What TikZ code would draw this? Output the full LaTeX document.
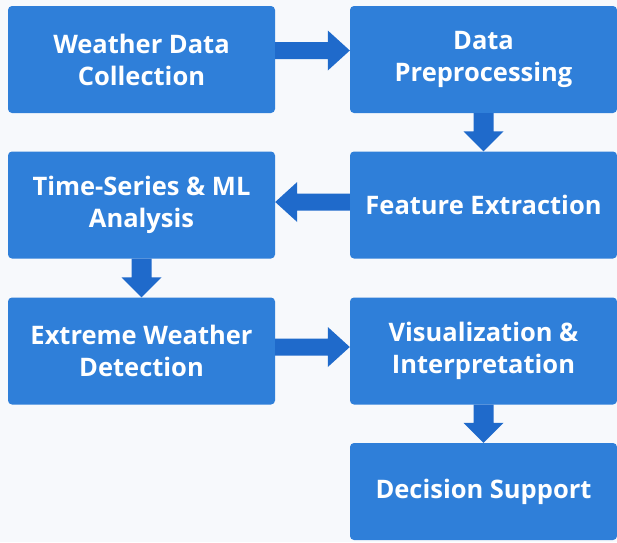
\documentclass[tikz,border=0pt]{standalone}
\usepackage{fontspec}
\setmainfont{Open Sans}
\usetikzlibrary{calc}
\definecolor{pagebg}{HTML}{F7F9FC}
\definecolor{boxfill}{HTML}{2F7FD9}
\definecolor{arrowfill}{HTML}{1F6ACB}
\tikzset{
  stage/.style={fill=boxfill, rounded corners=4pt, minimum width=267pt,
    minimum height=107pt, inner sep=0pt, align=center, text=white,
    font=\fontsize{25.5}{32}\selectfont\bfseries},
}
% horizontal block arrow: #1 start point, #2 end point (tip), #3 direction (+1 right, -1 left)
\newcommand\harrow[3]{%
  \fill[arrowfill] let \p1=(#1), \p2=(#2) in
    (\x1,\y1+8.5pt) -- (\x2-#3*22pt,\y1+8.5pt) -- (\x2-#3*22pt,\y1+20pt)
    -- (\x2,\y1) -- (\x2-#3*22pt,\y1-20pt) -- (\x2-#3*22pt,\y1-8.5pt)
    -- (\x1,\y1-8.5pt) -- cycle;}
% downward block arrow: #1 start point, #2 end point (tip)
\newcommand\varrow[2]{%
  \fill[arrowfill] let \p1=(#1), \p2=(#2) in
    (\x1-10pt,\y1) -- (\x1-10pt,\y2+20pt) -- (\x1-20pt,\y2+20pt)
    -- (\x1,\y2) -- (\x1+20pt,\y2+20pt) -- (\x1+10pt,\y2+20pt)
    -- (\x1+10pt,\y1) -- cycle;}
\begin{document}
\begin{tikzpicture}[x=1pt,y=-1pt]
  \fill[pagebg] (0,0) rectangle (617,542);
  \useasboundingbox (0,0) rectangle (617,542);

  \node[stage] (b1) at (141.5,59.5) {Weather Data\\Collection};
  \node[stage] (b2) at (483.5,59.5) {Data\\Preprocessing};
  \node[stage] (b3) at (141.5,205) {Time-Series \& ML\\Analysis};
  \node[stage] (b4) at (483.5,205) {Feature Extraction};
  \node[stage] (b5) at (141.5,351) {Extreme Weather\\Detection};
  \node[stage] (b6) at (483.5,351) {Visualization \&\\Interpretation};
  \node[stage, minimum height=97pt] (b7) at (483.5,491.5) {Decision Support};

  \harrow{$(b1.east)+(0,9pt)$}{b2.west}{1}
  \harrow{$(b4.west)+(0,3pt)$}{b3.east}{-1}
  \harrow{$(b5.east)+(0,4pt)$}{b6.west}{1}
  \varrow{b2.south}{b4.north}
  \varrow{b3.south}{b5.north}
  \varrow{b6.south}{b7.north}
\end{tikzpicture}
\end{document}
